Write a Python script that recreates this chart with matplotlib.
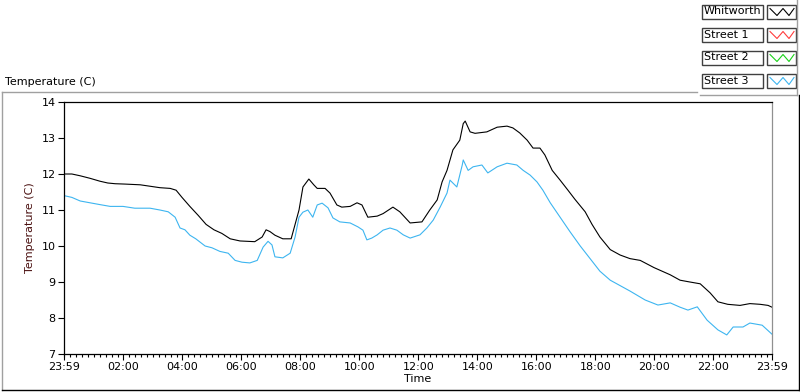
import numpy as np
import matplotlib
matplotlib.use('Agg')
import matplotlib.pyplot as plt
from matplotlib.lines import Line2D
from matplotlib.patches import Rectangle

# 23:59 を起点とした経過分
whitworth_min = [0, 16, 33, 53, 73, 89, 104, 124, 155, 175, 195, 216, 228, 240, 256, 273, 289, 305,
                 321, 338, 358, 388, 403, 411, 419, 429, 445, 462, 470, 478, 486, 498, 508, 515, 531,
                 541, 555, 565, 582, 596, 606, 618, 637, 649, 669, 683, 704, 728, 744, 759, 769, 779,
                 791, 805, 812, 816, 826, 836, 860, 881, 901, 913, 927, 942, 954, 968, 978, 993, 1009,
                 1025, 1039, 1060, 1074, 1090, 1111, 1131, 1151, 1172, 1200, 1233, 1253, 1273, 1294,
                 1314, 1330, 1350, 1375, 1395, 1416, 1432, 1440]
whitworth_temp = [12.0, 12.0, 11.95, 11.88, 11.8, 11.75, 11.73, 11.72, 11.7, 11.66, 11.62, 11.6, 11.55,
                  11.35, 11.1, 10.85, 10.6, 10.45, 10.35, 10.2, 10.14, 10.12, 10.25, 10.45, 10.4, 10.3,
                  10.2, 10.2, 10.6, 11.0, 11.64, 11.86, 11.7, 11.6, 11.6, 11.47, 11.14, 11.08, 11.1,
                  11.2, 11.14, 10.8, 10.83, 10.9, 11.08, 10.95, 10.64, 10.67, 11.0, 11.28, 11.78, 12.1,
                  12.67, 12.94, 13.4, 13.47, 13.17, 13.13, 13.17, 13.3, 13.33, 13.28, 13.14, 12.94,
                  12.72, 12.72, 12.53, 12.1, 11.83, 11.55, 11.3, 10.95, 10.6, 10.25, 9.9, 9.75, 9.65,
                  9.6, 9.4, 9.2, 9.05, 9.0, 8.95, 8.7, 8.45, 8.38, 8.35, 8.4, 8.38, 8.35, 8.3]

street3_min = [0, 16, 33, 53, 73, 94, 120, 144, 175, 195, 212, 226, 236, 246, 256, 268, 287, 301, 317,
               334, 348, 362, 378, 393, 405, 415, 423, 429, 445, 460, 470, 478, 486, 496, 506, 515, 525,
               537, 547, 561, 582, 598, 608, 616, 626, 637, 649, 663, 677, 690, 704, 724, 738, 751, 765,
               779, 785, 799, 810, 812, 822, 832, 850, 862, 881, 901, 921, 934, 948, 962, 974, 989,
               1009, 1029, 1050, 1070, 1090, 1111, 1131, 1151, 1182, 1208, 1233, 1253, 1269, 1288,
               1308, 1330, 1348, 1361, 1381, 1395, 1420, 1440]
street3_temp = [11.4, 11.35, 11.25, 11.2, 11.15, 11.1, 11.1, 11.05, 11.05, 11.0, 10.95, 10.8, 10.5,
                10.45, 10.3, 10.2, 10.0, 9.95, 9.85, 9.8, 9.6, 9.55, 9.53, 9.6, 9.97, 10.13, 10.03, 9.7,
                9.67, 9.8, 10.25, 10.8, 10.94, 11.0, 10.8, 11.14, 11.19, 11.06, 10.78, 10.67, 10.64,
                10.53, 10.44, 10.17, 10.22, 10.31, 10.44, 10.5, 10.44, 10.31, 10.22, 10.31, 10.5, 10.72,
                11.08, 11.47, 11.83, 11.64, 12.25, 12.39, 12.1, 12.2, 12.25, 12.03, 12.2, 12.3, 12.25,
                12.1, 11.97, 11.78, 11.55, 11.2, 10.8, 10.4, 10.0, 9.65, 9.3, 9.05, 8.9, 8.75, 8.5,
                8.36, 8.42, 8.3, 8.22, 8.31, 7.94, 7.67, 7.53, 7.75, 7.75, 7.86, 7.8, 7.55]

legend_names = ['Whitworth', 'Street 1', 'Street 2', 'Street 3']
legend_colors = ['black', '#ff3c3c', '#19d219', '#3db5f0']

tick_min = [0, 121, 241, 361, 481, 601, 721, 841, 961, 1081, 1201, 1321, 1440]
tick_labels = ['23:59', '02:00', '04:00', '06:00', '08:00', '10:00', '12:00',
               '14:00', '16:00', '18:00', '20:00', '22:00', '23:59']

W, H = 800, 392
plt.rcParams['font.family'] = 'DejaVu Sans'
fig = plt.figure(figsize=(W / 100, H / 100), dpi=100)

def fx(px):
    return px / W

def fy(py):
    return 1 - py / H

ax = fig.add_axes([fx(64), fy(354), fx(772) - fx(64), fy(102) - fy(354)])
ax.plot(whitworth_min, whitworth_temp, color=legend_colors[0], linewidth=0.8)
ax.plot(street3_min, street3_temp, color=legend_colors[3], linewidth=0.8)

ax.set_xlim(0, 1440)
ax.set_ylim(7, 14)
ax.set_xticks(tick_min)
ax.set_xticklabels(tick_labels)
ax.set_xticks(np.arange(1, 1440, 12), minor=True)
ax.set_yticks(range(7, 15))
ax.tick_params(axis='both', which='major', length=4, width=0.8, labelsize=8, pad=2, colors='black')
ax.tick_params(axis='x', which='minor', length=2.5, width=0.8)
ax.set_xlabel('Time', fontsize=8, labelpad=1)
ax.set_ylabel('Temperature (C)', fontsize=8, color='#4a1010', labelpad=5)
for s in ['left', 'bottom', 'top']:
    ax.spines[s].set_color('black')
    ax.spines[s].set_linewidth(0.9)
ax.spines['right'].set_color('#909090')
ax.spines['right'].set_linewidth(0.9)

# 外枠
fig.add_artist(Line2D([fx(2), fx(2)], [fy(92), fy(390)], color='#a0a0a0', lw=1))
fig.add_artist(Line2D([fx(2), fx(697)], [fy(92), fy(92)], color='#a0a0a0', lw=1))
fig.add_artist(Line2D([fx(799), fx(799)], [fy(95), fy(390)], color='black', lw=1))
fig.add_artist(Line2D([fx(2), fx(799)], [fy(390), fy(390)], color='black', lw=1))
fig.add_artist(Line2D([fx(700), fx(797)], [fy(94.5), fy(94.5)], color='#a0a0a0', lw=1))
fig.add_artist(Line2D([fx(797), fx(797)], [fy(0), fy(94.5)], color='#a0a0a0', lw=1))

fig.text(fx(5), fy(82), 'Temperature (C)', fontsize=8, va='center', ha='left')

# 凡例
for i, (name, c) in enumerate(zip(legend_names, legend_colors)):
    top = 4.5 + i * 23
    fig.add_artist(Rectangle((fx(702), fy(top + 14)), fx(61), fy(top) - fy(top + 14),
                             facecolor='white', edgecolor='#404040', lw=1))
    fig.text(fx(704), fy(top + 7), name, fontsize=8, va='center', ha='left')
    fig.add_artist(Rectangle((fx(767), fy(top + 14)), fx(29), fy(top) - fy(top + 14),
                             facecolor='white', edgecolor='#404040', lw=1))
    zx = [770, 777, 783, 789, 794]
    zy = [top + 4, top + 11, top + 4, top + 11, top + 4]
    fig.add_artist(Line2D([fx(v) for v in zx], [fy(v) for v in zy], color=c, lw=0.8))

fig.savefig('out.png', dpi=100)
